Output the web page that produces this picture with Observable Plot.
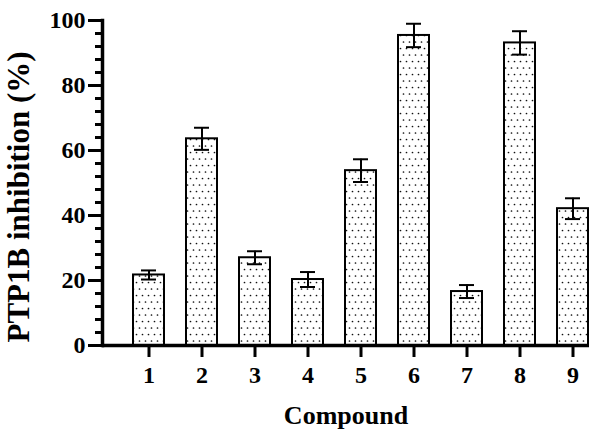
<!DOCTYPE html>
<html>
<head>
<meta charset="utf-8">
<script src="https://cdn.jsdelivr.net/npm/d3@7"></script>
<script src="https://cdn.jsdelivr.net/npm/@observablehq/plot@0.6"></script>
<style>
  html, body { margin: 0; padding: 0; background: white; }
</style>
</head>
<body>
<div id="chart"></div>
<script>
const compounds = ["1", "2", "3", "4", "5", "6", "7", "8", "9"];
const inhibition = [21.7, 63.6, 27.0, 20.3, 53.8, 95.4, 16.6, 93.1, 42.1];
const errors = [1.4, 3.4, 2.0, 2.3, 3.5, 3.6, 2.0, 3.6, 3.2];
const yMajorTicks = [0, 20, 40, 60, 80, 100];
const yMinorTicks = [4, 8, 12, 16, 24, 28, 32, 36, 44, 48, 52, 56, 64, 68, 72, 76, 84, 88, 92, 96];
const xTitle = "Compound";
const yTitle = "PTP1B inhibition (%)";

const data = compounds.map((c, i) => ({compound: c, value: inhibition[i], err: errors[i]}));

const plot = Plot.plot({
  width: 589,
  height: 431,
  marginLeft: 102,
  marginRight: 0,
  marginTop: 20,
  marginBottom: 86,
  style: {fontFamily: "'Liberation Serif', 'Times New Roman', serif", fontWeight: "bold", fontSize: "24px", background: "white", color: "black"},
  x: {domain: compounds, range: [132.5, 588.5], paddingInner: 0.415, paddingOuter: 0, label: null},
  y: {domain: [0, 100], label: null},
  marks: [
    Plot.barY(data, {x: "compound", y: "value", fill: "url(#dots)", stroke: "black", strokeWidth: 2}),
    Plot.ruleX(data, {x: "compound", y1: d => d.value - d.err, y2: d => d.value + d.err, stroke: "black", strokeWidth: 2}),
    Plot.tickY(data, {x: "compound", y: d => d.value + d.err, stroke: "black", strokeWidth: 2, insetLeft: 8, insetRight: 8}),
    Plot.tickY(data, {x: "compound", y: d => d.value - d.err, stroke: "black", strokeWidth: 2, insetLeft: 8, insetRight: 8}),
    Plot.axisY({ticks: yMinorTicks, tickSize: 7, tickFormat: () => "", strokeWidth: 3, label: null}),
    Plot.axisY({ticks: yMajorTicks, tickSize: 14, tickPadding: 3, fontSize: 24, strokeWidth: 3, label: null}),
    Plot.axisX({tickSize: 12, tickPadding: 8, fontSize: 24, strokeWidth: 3, label: null}),
    Plot.ruleY([0], {stroke: "black", strokeWidth: 3.5}),
    Plot.frame({anchor: "left", stroke: "black", strokeWidth: 3.5}),
    Plot.text([xTitle], {frameAnchor: "bottom", textAnchor: "middle", lineAnchor: "middle", dy: 70, fontSize: 26, fontWeight: "bold", fill: "black"}),
    Plot.text([yTitle], {frameAnchor: "left", textAnchor: "middle", lineAnchor: "middle", rotate: -90, dx: -83, dy: 14, fontSize: 31, fontWeight: "bold", fill: "black"})
  ]
});

// enlarge numeric tick labels
plot.querySelectorAll("text").forEach(t => {
  if (/^\d+$/.test(t.textContent.trim())) {
    t.setAttribute("font-size", "24");
    t.style.fontSize = "24px";
    t.style.fontWeight = "bold";
  }
});

const ns = "http://www.w3.org/2000/svg";
const defs = document.createElementNS(ns, "defs");
defs.innerHTML = '<pattern id="dots" width="6" height="13" patternUnits="userSpaceOnUse">' +
  '<rect width="6" height="13" fill="white"/>' +
  '<circle cx="1.5" cy="3" r="0.85" fill="#111"/>' +
  '<circle cx="4.5" cy="9.5" r="0.85" fill="#111"/>' +
  '</pattern>';
plot.insertBefore(defs, plot.firstChild);

document.getElementById("chart").appendChild(plot);
</script>
</body>
</html>
